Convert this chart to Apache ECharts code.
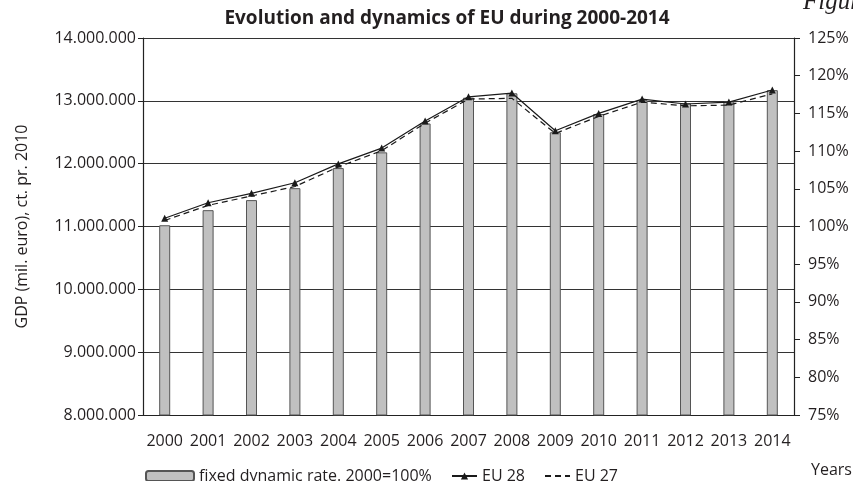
<!DOCTYPE html>
<html>
<head>
<meta charset="utf-8">
<script src="https://cdn.jsdelivr.net/npm/echarts@6/dist/echarts.min.js"></script>
<style>
  html, body { margin: 0; padding: 0; background: #fff; }
  #chart { width: 853px; height: 481px; }
</style>
</head>
<body>
<div id="chart"></div>
<script>
// data
var years = ["2000", "2001", "2002", "2003", "2004", "2005", "2006", "2007",
             "2008", "2009", "2010", "2011", "2012", "2013", "2014"];
// GDP (mil. euro), constant prices 2010 - bars
var gdp = [11020000, 11260000, 11420000, 11610000, 11930000, 12180000, 12640000, 13050000,
           13120000, 12500000, 12790000, 13010000, 12960000, 12990000, 13170000];
// dynamic rate, 2000 = 100% - lines
var eu28 = [101.1, 103.15, 104.4, 105.8, 108.3, 110.4, 114.0, 117.2,
            117.7, 112.7, 115.0, 116.9, 116.25, 116.5, 118.1];
var eu27 = [100.8, 102.8, 104.05, 105.3, 107.9, 110.05, 113.7, 116.9,
            117.0, 112.35, 114.6, 116.5, 116.0, 116.1, 117.6];

var FONT = "Open Sans";
var INK = "#231f20";

function dots(v) {
    return String(v).replace(/\B(?=(\d{3})+(?!\d))/g, ".");
}

var myChart = echarts.init(document.getElementById("chart"));

var option = {
    animation: false,
    backgroundColor: "#fff",
    textStyle: { fontFamily: FONT, color: INK },
    title: {
        text: "Evolution and dynamics of EU during 2000-2014",
        left: 442,
        textAlign: "center",
        top: 4,
        textStyle: { fontFamily: FONT, fontSize: 19, fontWeight: "bold", color: INK }
    },
    legend: [
        {
            left: 140,
            top: 463,
            itemWidth: 48,
            itemHeight: 10,
            data: ["fixed dynamic rate. 2000=100%"],
            textStyle: { fontFamily: FONT, fontSize: 16, color: INK }
        },
        {
            left: 446,
            top: 463,
            itemWidth: 25,
            itemHeight: 9,
            itemGap: 19,
            data: ["EU 28", { name: "EU 27", itemStyle: { opacity: 0 } }],
            textStyle: { fontFamily: FONT, fontSize: 16, color: INK }
        }
    ],
    grid: {
        left: 143,
        right: 59,
        top: 38,
        bottom: 66
    },
    xAxis: {
        type: "category",
        data: years,
        axisTick: { show: false },
        axisLine: { lineStyle: { color: "#222", width: 1.2 } },
        axisLabel: { color: INK, fontFamily: FONT, fontSize: 16, margin: 18, interval: 0 }
    },
    yAxis: [
        {
            type: "value",
            name: "GDP (mil. euro), ct. pr. 2010",
            nameLocation: "middle",
            nameGap: 113,
            nameTextStyle: { color: INK, fontFamily: FONT, fontSize: 16 },
            min: 8000000,
            max: 14000000,
            interval: 1000000,
            axisLine: { show: true, lineStyle: { color: "#222", width: 1.2 } },
            axisTick: { show: true, length: 5, lineStyle: { color: "#222" } },
            axisLabel: { color: INK, fontFamily: FONT, fontSize: 16, margin: 7, formatter: dots },
            splitLine: { lineStyle: { color: "#333", width: 1.2 } }
        },
        {
            type: "value",
            position: "right",
            min: 75,
            max: 125,
            interval: 5,
            axisLine: { show: true, lineStyle: { color: "#222", width: 1.2 } },
            axisTick: { show: true, length: 6, lineStyle: { color: "#222" } },
            axisLabel: { color: INK, fontFamily: FONT, fontSize: 16, margin: 14, formatter: "{value}%" },
            splitLine: { show: false }
        }
    ],
    series: [
        {
            name: "fixed dynamic rate. 2000=100%",
            type: "bar",
            yAxisIndex: 0,
            data: gdp,
            barWidth: 11,
            itemStyle: { color: "#c0c0c0", borderColor: "#555", borderWidth: 1 }
        },
        {
            name: "EU 28",
            type: "line",
            yAxisIndex: 1,
            data: eu28,
            symbol: "triangle",
            symbolSize: 7,
            z: 4,
            lineStyle: { color: "#1a1a1a", width: 1.2 },
            itemStyle: { color: "#1a1a1a" }
        },
        {
            name: "EU 27",
            type: "line",
            yAxisIndex: 1,
            data: eu27,
            symbol: "none",
            z: 3,
            lineStyle: { color: "#1a1a1a", width: 1.2, type: [6, 4] },
            itemStyle: { color: "#1a1a1a" }
        }
    ],
    graphic: [
        {
            type: "text",
            left: 811,
            top: 462,
            style: { text: "Years", fill: INK, font: "16px 'Open Sans'" }
        },
        {
            type: "text",
            left: 803,
            top: -10,
            style: { text: "Figur", fill: INK, font: "italic 25px 'Liberation Serif'" }
        }
    ]
};

myChart.setOption(option, true);
</script>
</body>
</html>
